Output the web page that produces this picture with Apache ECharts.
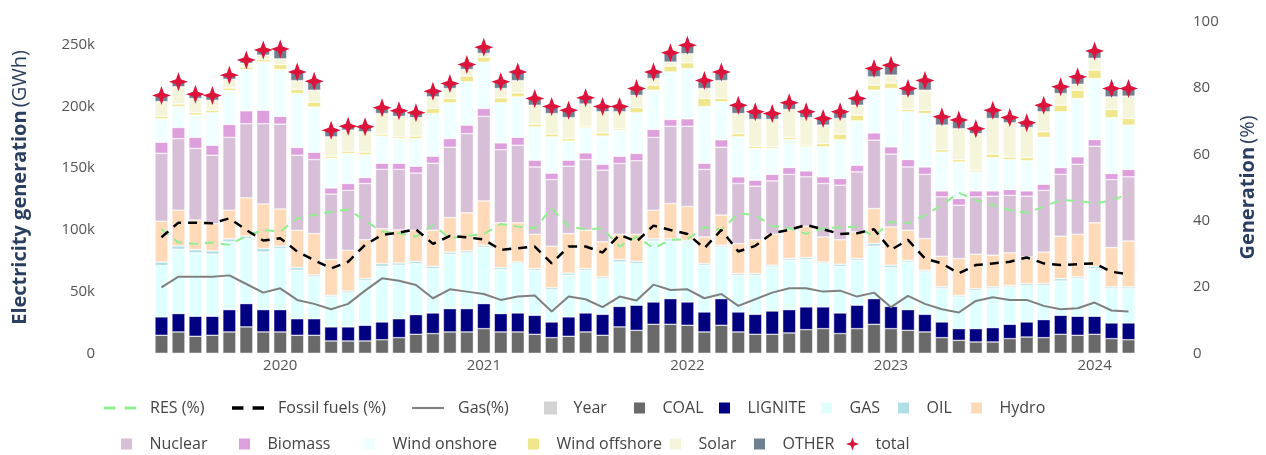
<!DOCTYPE html>
<html>
<head>
<meta charset="utf-8">
<script src="https://cdn.jsdelivr.net/npm/echarts@6/dist/echarts.min.js"></script>
<style>
  html, body { margin: 0; padding: 0; background: #fff; }
  #chart { width: 1266px; height: 455px; }
</style>
</head>
<body>
<div id="chart"></div>
<script>
// monthly values, GWh
var months = [
  '2019-06','2019-07','2019-08','2019-09','2019-10','2019-11','2019-12',
  '2020-01','2020-02','2020-03','2020-04','2020-05','2020-06','2020-07','2020-08','2020-09','2020-10','2020-11','2020-12',
  '2021-01','2021-02','2021-03','2021-04','2021-05','2021-06','2021-07','2021-08','2021-09','2021-10','2021-11','2021-12',
  '2022-01','2022-02','2022-03','2022-04','2022-05','2022-06','2022-07','2022-08','2022-09','2022-10','2022-11','2022-12',
  '2023-01','2023-02','2023-03','2023-04','2023-05','2023-06','2023-07','2023-08','2023-09','2023-10','2023-11','2023-12',
  '2024-01','2024-02','2024-03'
];
var coal = [14600,17300,13800,14600,17300,21400,17300,17300,14600,14600, 10000,10000,10000,11000,12700,15400,16000,17300,17300,20000,
  17300,17300,15400,12700,13800,17300,14600,21400,18600,23500, 23500,22700,17300,22700,17300,15400,15400,16500,19200,20000,
  16000,20000,23500,20000,18600,17300,12700,10500,9200,9200, 11900,13200,12700,15400,14600,15400,11900,11000];
var lignite = [14900,14900,16200,15400,18100,18900,18100,18100,13400,13400, 11400,11400,12700,14400,15300,16000,16700,18900,18900,20300,
  14900,15400,15400,12700,15700,15400,17000,16600,20400,18100, 20800,18900,16200,21600,16200,16200,18900,18900,18400,17600,
  16700,19000,20800,18000,16800,14300,12700,9500,10800,11600, 11600,12200,14600,15400,15400,14600,12700,13600];
var gas = [41500,52100,51400,50300,54900,52700,46600,49600,39300,34000, 24300,27600,36300,45100,43400,41300,35900,44100,45200,45700,
  35600,40000,36500,26200,33700,34600,28900,36000,33700,49400, 46700,48700,37900,41900,29700,31600,35700,40000,38400,35100,
  37800,36400,42500,31500,38600,34400,27000,25700,31000,31600, 30300,29600,27700,27800,30500,38600,27800,27800];
var oil = [3000,2700,2600,2700,2400,2000,3000,1800,2200,1500, 1300,1500,1500,2200,1800,1900,1900,1700,1600,1600,
  1700,1300,1300,1600,1800,1300,1400,2000,1900,1700, 1700,1300,1300,1400,1400,1400,1400,1400,1600,1300,
  1700,1400,2200,1900,1400,1300,1400,1300,1400,1400, 1200,1500,1500,1900,1400,1900,1400,1400];
var hydro = [33000,29000,24000,22000,23300,31000,36000,30200,30200,33500, 29000,33000,31500,28300,26800,25100,29200,28000,30800,35900,
  36200,31700,27900,33600,32000,31100,28400,20500,21900,23300, 28700,27400,21600,24400,24400,27400,25100,23200,25400,20300,
  19800,21600,28300,31000,24300,25700,24800,29800,27900,25700, 26400,21500,25500,34400,34600,35200,31900,37200];
var nuclear = [55000,58000,58000,55500,59000,60000,65000,68700,60800,60000, 53000,48500,45600,48000,49000,46300,54300,57000,64200,68500,
  59300,62900,54500,54000,54600,57300,58100,57300,59500,58900, 62600,65000,54700,55000,48600,43400,43200,45000,40000,43300,
  44200,48600,55400,59000,51300,52000,48200,43200,46500,47800, 46600,49300,50000,50100,56700,62100,55100,52000];
var biomass = [9000,9000,9000,8100,10400,10500,11000,6300,6300,5900, 5000,5600,4800,5000,5000,5600,5700,7000,6900,6400,
  5500,6400,5500,5200,4900,5400,4800,5900,6000,6500, 5500,6000,5000,6000,5400,4900,5300,5500,4800,5400,
  5400,5400,5900,5900,6000,6000,4800,5400,4800,4300, 4700,4300,5000,5500,6000,5400,4900,6000];
var windOn = [19000,17000,18000,26400,27600,33500,39000,38000,43700,36600, 24000,24400,18600,22000,20000,22400,34600,29000,35100,37600,
  32500,32800,27000,29400,15500,20300,22800,21100,33000,31800, 38500,40800,46000,30800,32400,25700,21000,22700,19500,24300,
  31600,36000,34600,47300,38700,43300,31400,29600,15400,27000, 24300,24400,38000,45200,47300,49500,45300,35900];
var windOff = [2000,2000,2000,2000,2000,2000,2000,4000,3300,4000, 1700,1800,2000,1600,1400,2000,4100,3500,4600,4000,
  4000,3200,2200,2200,2000,1300,2600,1200,4000,4100, 4700,4600,6500,2700,2600,1800,1300,1700,1300,2700,
  4400,4600,4100,4400,1900,2700,2000,2000,1400,2800, 2000,2600,4500,5300,6700,6800,6600,5400];
var solar = [12000,14000,11500,8000,7000,3000,3600,4600,7200,9700, 15700,17000,16500,16700,16600,15000,9400,8100,5400,3000,
  7600,10000,15300,16700,17000,18000,17100,13700,10000,5400, 3300,7300,8100,14500,16300,21700,22200,22700,22400,14900,
  12700,8000,6700,6400,11400,16200,19900,25000,29600,28900, 27800,24400,16200,9500,4800,9500,10200,18100];
var other = [5000,4000,3500,4000,3400,2600,4100,8000,7000,7300, 5400,3200,4000,4700,4500,4000,4600,4000,4000,5000,
  5400,7000,5500,5700,6000,5000,4300,4300,5600,5300, 7500,7000,6400,7000,6700,6200,4800,5400,4700,5400,
  5400,5500,6800,8100,5600,7800,6700,7000,4000,6700, 4200,3800,5300,5500,6000,6000,6800,6200];

// shares, %
var resPct = [37.4,33.4,33,33.4,32.7,35.4,37.2,36.7,40.7,41.7, 42.7,43.4,40,36.7,36.2,35.2,38.7,34.7,35.4,36,
  39,38.2,37.7,43.7,38.2,37.4,37.7,32.2,35.2,31.7, 34.2,34.4,38,37.2,42.2,41.7,38.4,37.7,36,37.7,
  38,38.2,35.2,39.7,39.2,41.7,44.7,48.4,46.2,44.7, 43.2,42.4,44.2,46.2,46,45.2,46.2,48];
var fossilPct = [35,39.4,39.4,39.2,40.7,37.2,34,34.7,30.7,28.1, 25.6,27.6,32.7,35.7,36.4,37.4,33,35.4,35,34.3,
  31.2,31.7,32.2,27.1,32.2,32.2,30.4,35.7,33.7,38.5, 37.2,36,31.7,37.2,30.7,32.4,36.2,37.2,38.7,37.4,
  36,36.2,37.4,31.2,34.2,28.6,27.1,24.1,26.6,27.1, 27.6,28.9,27.1,26.6,26.9,27.1,24.6,23.8];
var gasPct = [19.9,23.1,23.1,23.1,23.5,20.9,18.3,19.6,16.1,14.9, 13.3,14.9,18.9,22.6,21.9,20.6,16.6,19.3,18.6,17.9,
  16.1,17.1,17.4,12.6,17.1,16.3,13.9,17.1,15.9,20.7, 19.1,19.3,16.6,17.9,14.3,16.3,18.3,19.6,19.6,18.6,
  18.9,17.1,18.3,13.9,17.3,14.9,13.3,12.3,15.8,16.9, 16.1,16.1,14.3,13.3,13.6,15.3,12.9,12.6];

var stackParts = [
  ['COAL', coal, '#696969'],
  ['LIGNITE', lignite, '#000080'],
  ['GAS', gas, '#e0ffff'],
  ['OIL', oil, '#b0e0e6'],
  ['Hydro', hydro, '#ffdab9'],
  ['Nuclear', nuclear, '#d8bfd8'],
  ['Biomass', biomass, '#dda0dd'],
  ['Wind onshore', windOn, '#f0ffff'],
  ['Wind offshore', windOff, '#f0e68c'],
  ['Solar', solar, '#f5f5dc'],
  ['OTHER', other, '#708090']
];

var total = months.map(function (m, i) {
  var s = 0;
  stackParts.forEach(function (p) { s += p[1][i]; });
  return s;
});

var font = 'Open Sans';
var starPath = 'path://M0,-10 L2.6,-2.6 L10,0 L2.6,2.6 L0,10 L-2.6,2.6 L-10,0 L-2.6,-2.6 Z';
var boxIcon = 'path://M0,0 H10 V10 H0 Z';
var icons = {
  'RES (%)': 'path://M0,0 H10 V2.5 H0 Z M18,0 H28 V2.5 H18 Z',
  'Fossil fuels (%)': 'path://M0,0 H10 V3 H0 Z M18,0 H28 V3 H18 Z',
  'Gas(%)': 'path://M0,0 H30 V2 H0 Z'
};

var series = [
  { name: 'RES (%)', type: 'line', yAxisIndex: 1, data: resPct, symbol: 'none', z: 5,
    lineStyle: { color: '#90ee90', width: 2, type: [9, 7] }, itemStyle: { color: '#90ee90' } },
  { name: 'Fossil fuels (%)', type: 'line', yAxisIndex: 1, data: fossilPct, symbol: 'none', z: 5,
    lineStyle: { color: '#000', width: 2.5, type: [9, 7] }, itemStyle: { color: '#000' } },
  { name: 'Gas(%)', type: 'line', yAxisIndex: 1, data: gasPct, symbol: 'none', z: 5,
    lineStyle: { color: '#808080', width: 2 }, itemStyle: { color: '#808080' } },
  { name: 'Year', type: 'bar', stack: 'gen', data: [], itemStyle: { color: '#d3d3d3' } }
];
stackParts.forEach(function (p) {
  series.push({
    name: p[0], type: 'bar', stack: 'gen', data: p[1], barWidth: 13,
    itemStyle: { color: p[2], borderColor: '#fff', borderWidth: 0.5 }
  });
});
series.push({
  name: 'total', type: 'scatter', data: total, symbol: starPath, symbolSize: 19, z: 10,
  itemStyle: { color: '#dc143c', opacity: 1 }
});

// legend entries: [name, x where the entry starts]
var legendRow1 = [['RES (%)', 104], ['Fossil fuels (%)', 232], ['Gas(%)', 412], ['Year', 544], ['COAL', 632],
  ['LIGNITE', 717], ['GAS', 819], ['OIL', 896], ['Hydro', 969]];
var legendRow2 = [['Nuclear', 119], ['Biomass', 237], ['Wind onshore', 362], ['Wind offshore', 526],
  ['Solar', 668], ['OTHER', 752], ['total', 846]];

var legends = [];
[[legendRow1, 400], [legendRow2, 436]].forEach(function (row) {
  row[0].forEach(function (e) {
    var n = e[0], isLine = !!icons[n];
    legends.push({
      left: e[1], top: row[1], padding: 0, itemWidth: 32, itemHeight: 13,
      textStyle: { fontFamily: font, fontSize: 16, color: '#444', padding: [0, 0, 0, isLine ? 9 : 2] },
      data: [{ name: n, icon: isLine ? icons[n] : (n === 'total' ? starPath : boxIcon) }]
    });
  });
});

var chart = echarts.init(document.getElementById('chart'), null, { renderer: 'canvas' });
chart.setOption({
  animation: false,
  backgroundColor: '#fff',
  textStyle: { fontFamily: font },
  grid: { left: 153, right: 129, top: 21.7, bottom: 101.7, containLabel: false, outerBoundsMode: 'none' },
  legend: legends,
  xAxis: {
    type: 'category', data: months,
    axisLine: { show: false }, axisTick: { show: false }, splitLine: { show: false },
    axisLabel: {
      interval: function (i, v) { return v.slice(5) === '01'; },
      formatter: function (v) { return v.slice(0, 4); },
      color: '#555', fontFamily: font, fontSize: 15, margin: 5
    }
  },
  yAxis: [
    {
      type: 'value', min: 0, max: 268700, interval: 50000,
      name: '{b|Electricity generation} {n|(GWh)}', nameLocation: 'middle', nameRotate: 90, nameGap: 123,
      nameTextStyle: { rich: {
        b: { fontFamily: font, fontWeight: 'bold', fontSize: 20, color: '#2a3f5f' },
        n: { fontFamily: font, fontSize: 20, color: '#2a3f5f' }
      } },
      axisLine: { show: false }, axisTick: { show: false }, splitLine: { show: false },
      axisLabel: {
        color: '#555', fontFamily: font, fontSize: 15, margin: 58,
        formatter: function (v) { return v % 50000 === 0 ? (v === 0 ? '0' : (v / 1000) + 'k') : ''; }
      }
    },
    {
      type: 'value', min: 0, max: 100, interval: 20, position: 'right',
      name: '{b|Generation} {n|(%)}', nameLocation: 'middle', nameRotate: 90, nameGap: 101,
      nameTextStyle: { rich: {
        b: { fontFamily: font, fontWeight: 'bold', fontSize: 20, color: '#2a3f5f' },
        n: { fontFamily: font, fontSize: 20, color: '#2a3f5f' }
      } },
      axisLine: { show: false }, axisTick: { show: false }, splitLine: { show: false },
      axisLabel: { color: '#555', fontFamily: font, fontSize: 15, margin: 56 }
    }
  ],
  series: series
});
</script>
</body>
</html>
